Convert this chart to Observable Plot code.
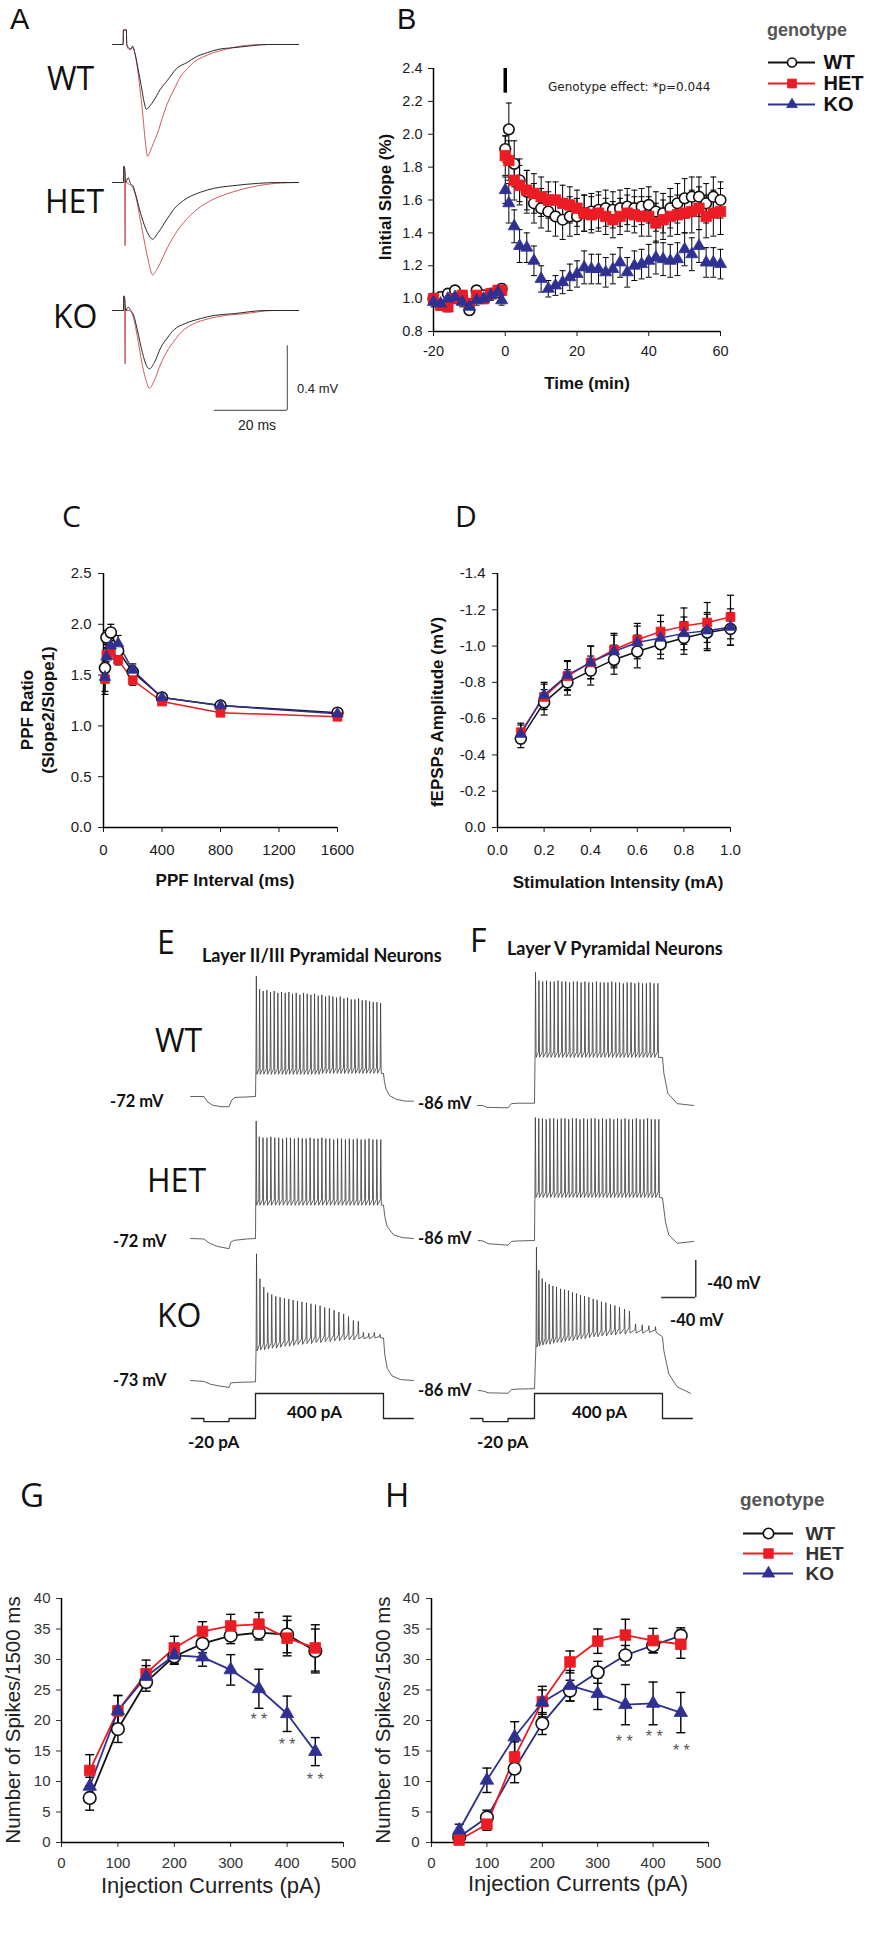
<!DOCTYPE html>
<html><head><meta charset="utf-8">
<script src="https://cdn.jsdelivr.net/npm/d3@7"></script>
<script src="https://cdn.jsdelivr.net/npm/@observablehq/plot@0.6"></script>
<style>
html,body{margin:0;padding:0;background:#fff;}
#fig{position:relative;width:874px;height:1950px;overflow:hidden;background:#fff;}
</style></head><body><div id="fig"></div>
<script>
// ================= DATA =================
const genotypes = ["WT", "HET", "KO"];

// ---- Panel A: fEPSP traces [time ms, mV rel. baseline]; base = black, ltp = red
const fepspWTBase = [[0,0],[2.9,0],[3,0.09],[3.8,0.09],[3.9,0],[4.4,-0.02],[5,-0.03],[5.5,-0.01],[6.2,-0.06],[7,-0.15],[7.9,-0.26],[8.7,-0.36],[9.3,-0.40],[10.2,-0.38],[11.2,-0.35],[13,-0.28],[15.1,-0.22],[17.5,-0.15],[20.5,-0.11],[23,-0.075],[26,-0.05],[29,-0.03],[33,-0.02],[38,-0.008],[42.5,0],[51,0]];
const fepspWTLtp = [[0,0],[2.9,0],[3,0.09],[3.8,0.09],[3.9,0],[4.5,-0.03],[5.5,-0.02],[6.2,-0.06],[6.8,-0.14],[7.5,-0.27],[8.2,-0.41],[9.0,-0.60],[9.6,-0.69],[10.3,-0.66],[11.2,-0.61],[12.3,-0.55],[13.7,-0.45],[15.1,-0.36],[16.8,-0.28],[18.6,-0.20],[20.5,-0.15],[22.2,-0.11],[25,-0.075],[27.7,-0.05],[31,-0.03],[35,-0.01],[42,0],[51,0]];
const fepspHETBase = [[0,0],[3.0,0],[3.1,0.10],[3.4,0.08],[3.6,0],[4.3,0.03],[5,-0.01],[5.6,-0.02],[6.3,-0.07],[7.7,-0.19],[9.6,-0.31],[11,-0.35],[12.5,-0.31],[15.1,-0.22],[17,-0.16],[19.5,-0.11],[24.1,-0.06],[28,-0.035],[33,-0.02],[40,-0.005],[46,0],[51,0]];
const fepspHETLtp = [[0,0],[3.0,0],[3.1,0.10],[3.3,0.05],[3.45,-0.39],[3.6,0],[4.5,-0.01],[5.5,-0.03],[6.3,-0.08],[7.7,-0.24],[9.6,-0.46],[11,-0.57],[12.3,-0.53],[15.1,-0.40],[18,-0.29],[21,-0.21],[24.1,-0.15],[27.5,-0.105],[31.4,-0.07],[35,-0.045],[38.7,-0.025],[45,-0.005],[51,0]];
const fepspKOBase = [[0,0],[3.0,0],[3.1,0.09],[3.4,0.07],[3.6,0],[4.3,0.02],[5,0],[5.8,-0.03],[6.8,-0.12],[8.2,-0.26],[9.3,-0.34],[10.1,-0.36],[11.5,-0.32],[13.2,-0.23],[15,-0.17],[16.8,-0.12],[20,-0.08],[24.1,-0.05],[28,-0.03],[33,-0.02],[42,0],[51,0]];
const fepspKOLtp = [[0,0],[3.0,0],[3.1,0.09],[3.3,0.05],[3.45,-0.33],[3.6,0],[4.5,0],[5.8,-0.05],[6.8,-0.16],[8.2,-0.34],[9.3,-0.44],[10.1,-0.48],[11.5,-0.43],[13.2,-0.33],[15,-0.25],[16.8,-0.19],[19,-0.13],[21.5,-0.09],[26.5,-0.05],[31,-0.03],[36,-0.02],[44,0],[51,0]];
const scaleBarA = {t: [27.9, 47.9], v: [-0.617, -0.217]};   // 20 ms, 0.4 mV

// ---- Panel B: LTP time course
const ltpTime = [-20,-18,-16,-14,-12,-10,-8,-6,-4,-2,-1, 0,1,2.5,4,6,8,10,12,14,16,18,20,22,24,26,28,30,32,34,36,38,40,42,44,46,48,50,52,54,56,58,60];
const ltpWT = [1.00,1.01,1.03,1.05,1.01,0.93,1.05,1.02,1.03,1.04,1.06, 1.91,2.03,1.82,1.72,1.65,1.58,1.55,1.53,1.50,1.48,1.50,1.50,1.52,1.53,1.54,1.55,1.54,1.55,1.56,1.55,1.56,1.57,1.53,1.52,1.55,1.58,1.61,1.62,1.62,1.58,1.62,1.60];
const ltpWTerr = [0.03,0.03,0.03,0.03,0.03,0.03,0.03,0.03,0.03,0.03,0.03, 0.08,0.16,0.14,0.13,0.13,0.12,0.12,0.12,0.12,0.12,0.12,0.11,0.11,0.11,0.11,0.11,0.11,0.11,0.11,0.11,0.11,0.11,0.12,0.12,0.12,0.12,0.12,0.12,0.12,0.12,0.12,0.11];
const ltpHET = [1.00,0.96,0.95,1.00,1.02,0.97,1.02,1.00,1.03,1.05,1.05, 1.87,1.84,1.72,1.69,1.66,1.64,1.62,1.60,1.60,1.58,1.57,1.55,1.52,1.51,1.52,1.50,1.48,1.50,1.52,1.51,1.50,1.50,1.46,1.48,1.50,1.51,1.52,1.53,1.55,1.50,1.52,1.53];
const ltpHETerr = [0.03,0.03,0.03,0.03,0.03,0.03,0.03,0.03,0.03,0.03,0.03, 0.12,0.12,0.12,0.12,0.12,0.12,0.12,0.11,0.11,0.11,0.11,0.11,0.11,0.11,0.11,0.11,0.11,0.11,0.11,0.11,0.12,0.12,0.12,0.12,0.12,0.12,0.12,0.13,0.13,0.13,0.14,0.14];
const ltpKO = [0.98,0.97,1.00,1.01,0.98,0.95,0.99,1.00,1.02,1.04,0.99, 1.66,1.58,1.44,1.32,1.31,1.23,1.12,1.06,1.08,1.10,1.13,1.15,1.19,1.18,1.18,1.16,1.18,1.22,1.16,1.20,1.21,1.23,1.25,1.24,1.23,1.24,1.30,1.27,1.32,1.22,1.22,1.21];
const ltpKOerr = [0.03,0.03,0.03,0.03,0.03,0.03,0.03,0.03,0.03,0.03,0.03, 0.08,0.12,0.10,0.10,0.09,0.09,0.08,0.05,0.06,0.07,0.08,0.08,0.10,0.09,0.09,0.09,0.09,0.09,0.09,0.09,0.09,0.10,0.10,0.10,0.10,0.10,0.10,0.10,0.10,0.09,0.09,0.09];
const tetanusTime = [0];
const tetanusRange = [2.25, 2.40];
const ltpTicksX = [-20, 0, 20, 40, 60];
const ltpTicksY = [0.8, 1.0, 1.2, 1.4, 1.6, 1.8, 2.0, 2.2, 2.4];
const ltpNote = "Genotype effect: *p=0.044";

// ---- Panel C: paired-pulse facilitation
const ppfInterval = [10, 20, 50, 100, 200, 400, 800, 1600];
const ppfWT = [1.57, 1.87, 1.92, 1.74, 1.53, 1.28, 1.20, 1.13];
const ppfWTerr = [0.06, 0.07, 0.08, 0.07, 0.06, 0.03, 0.03, 0.02];
const ppfHET = [1.46, 1.70, 1.72, 1.65, 1.45, 1.24, 1.13, 1.09];
const ppfHETerr = [0.12, 0.07, 0.06, 0.05, 0.05, 0.03, 0.02, 0.02];
const ppfKO = [1.48, 1.68, 1.79, 1.81, 1.55, 1.28, 1.20, 1.12];
const ppfKOerr = [0.17, 0.08, 0.07, 0.08, 0.06, 0.03, 0.02, 0.02];
const ppfTicksX = [0, 400, 800, 1200, 1600];
const ppfTicksY = [0, 0.5, 1.0, 1.5, 2.0, 2.5];

// ---- Panel D: input-output
const stimIntensity = [0.1, 0.2, 0.3, 0.4, 0.5, 0.6, 0.7, 0.8, 0.9, 1.0];
const ioWT = [-0.49, -0.69, -0.80, -0.865, -0.925, -0.97, -1.01, -1.045, -1.075, -1.095];
const ioWTerr = [0.05, 0.07, 0.07, 0.08, 0.08, 0.09, 0.08, 0.09, 0.10, 0.09];
const ioHET = [-0.525, -0.72, -0.835, -0.91, -0.98, -1.035, -1.08, -1.11, -1.13, -1.16];
const ioHETerr = [0.05, 0.07, 0.08, 0.09, 0.09, 0.09, 0.09, 0.10, 0.11, 0.12];
const ioKO = [-0.515, -0.73, -0.84, -0.91, -0.97, -1.02, -1.045, -1.07, -1.085, -1.105];
const ioKOerr = [0.05, 0.07, 0.08, 0.09, 0.09, 0.09, 0.09, 0.09, 0.10, 0.10];
const ioTicksX = [0, 0.2, 0.4, 0.6, 0.8, 1.0];
const ioTicksY = [0, -0.2, -0.4, -0.6, -0.8, -1.0, -1.2, -1.4];

// ---- Panels E/F: current-clamp traces. pre/post: [ms, mV]; spikes: [ms, peak mV, trough mV]
const eWTPre = [[-760,-72],[-605,-72],[-560,-78],[-500,-81.5],[-400,-83],[-310,-83],[-280,-76],[-240,-73],[-100,-72.5],[0,-72]];
const eWTSpikes = [[10,58,-48],[48,44,-48],[90,42,-48],[133,43,-48],[176,41,-48],[219,42,-48],[262,40,-48],[305,41,-48],[348,40,-48],[391,41,-48],[434,39,-48],[477,40,-48],[520,38,-48],[563,40,-48],[606,39,-48],[649,38,-48],[692,39,-48],[735,37,-48],[778,38,-47],[821,36,-47],[864,37,-47],[907,36,-47],[950,35,-47],[993,36,-47],[1036,34,-47],[1079,35,-47],[1122,33,-47],[1165,33,-47],[1208,34,-47],[1251,32,-47],[1294,32,-47],[1337,31,-47],[1380,30,-47],[1423,30,-47],[1466,29,-47]];
const eWTPost = [[1500,-47],[1510,-55],[1530,-64],[1570,-71],[1650,-75],[1750,-77],[1852,-77]];
const eHETPre = [[-760,-72],[-605,-72.5],[-540,-77],[-450,-80.5],[-310,-83],[-290,-76],[-250,-74],[-100,-72.5],[0,-72]];
const eHETSpikes = [[8,55,-36],[44,38,-36],[88,37,-36],[134,37,-36],[180,38,-36],[226,37,-36],[272,37,-36],[318,36,-36],[364,37,-36],[410,37,-36],[456,36,-36],[502,37,-36],[548,36,-36],[594,36,-36],[640,37,-36],[686,36,-36],[732,36,-36],[778,37,-36],[824,36,-36],[870,36,-36],[916,35,-36],[962,36,-36],[1008,36,-36],[1054,35,-36],[1100,36,-36],[1146,35,-36],[1192,36,-36],[1238,35,-36],[1284,35,-36],[1330,36,-36],[1376,35,-36],[1422,35,-36],[1468,35,-36]];
const eHETPost = [[1500,-36],[1515,-48],[1543,-59],[1617,-68],[1720,-71],[1852,-72]];
const eKOPre = [[-760,-73],[-605,-74],[-530,-77],[-420,-79],[-310,-80.5],[-290,-75.5],[-200,-75],[0,-74.5]];
const eKOSpikes = [[12,64,-41],[52,37,-40],[97,28,-40],[143,22,-39],[190,20,-38],[238,18,-38],[288,17,-37],[339,16,-36],[390,15,-36],[441,14,-35],[492,13,-34],[544,12,-34],[597,11,-33],[650,10,-33],[703,9,-32],[757,8,-32],[811,6,-31],[866,5,-31],[921,3,-30],[977,1,-30],[1033,-1,-29],[1090,-4,-29],[1147,-8,-29],[1205,-9,-28],[1265,-21,-28],[1328,-22,-28],[1393,-21,-27],[1458,-23,-27]];
const eKOPost = [[1500,-27],[1515,-45],[1545,-60],[1600,-68],[1700,-72],[1852,-73]];
const fWTPre = [[-668,-86],[-605,-86],[-560,-88],[-310,-88.5],[-270,-84],[-200,-83.5],[0,-83.5]];
const fWTSpikes = [[12,58,-34],[52,49,-34],[96,48,-34],[141,49,-34],[186,48,-34],[231,48,-34],[276,49,-34],[321,48,-34],[366,48,-34],[411,47,-34],[456,48,-34],[501,48,-34],[546,47,-34],[591,48,-34],[636,47,-34],[681,47,-34],[726,48,-34],[771,47,-34],[816,47,-34],[861,47,-34],[906,48,-34],[951,47,-34],[996,47,-34],[1041,46,-34],[1086,47,-34],[1131,47,-34],[1176,46,-34],[1221,47,-34],[1266,46,-34],[1311,46,-34],[1356,47,-34],[1401,46,-34],[1446,46,-34]];
const fWTPost = [[1500,-34],[1516,-51],[1563,-73],[1672,-84],[1867,-86]];
const fHETPre = [[-660,-86],[-605,-86.5],[-540,-89.5],[-310,-91],[-270,-87],[-200,-86.5],[0,-86]];
const fHETSpikes = [[10,47,-39.5],[50,46,-39.5],[93,46,-39.5],[137,45,-39.5],[181,46,-39.5],[225,46,-39.5],[269,45,-39.5],[313,46,-39.5],[357,46,-39.5],[401,45,-39.5],[445,46,-39.5],[489,46,-39.5],[533,45,-39.5],[577,46,-39.5],[621,45,-39.5],[665,46,-39.5],[709,46,-39.5],[753,45,-39.5],[797,46,-39.5],[841,45,-39.5],[885,46,-39.5],[929,45,-39.5],[973,46,-39.5],[1017,45,-39.5],[1061,46,-39.5],[1105,45,-39.5],[1149,45,-39.5],[1193,46,-39.5],[1237,45,-39.5],[1281,45,-39.5],[1325,46,-39.5],[1369,45,-39.5],[1413,45,-39.5],[1457,45,-39.5]];
const fHETPost = [[1500,-40],[1535,-66],[1574,-80],[1672,-89],[1867,-87]];
const fKOPre = [[-660,-86],[-605,-86.5],[-540,-88.5],[-310,-89],[-270,-85],[-200,-84.5],[0,-84]];
const fKOSpikes = [[23,69,-39],[51,44,-38],[90,35,-37],[129,31,-36],[172,29,-36],[215,27,-35],[258,26,-34],[305,24,-34],[352,23,-33],[398,22,-32],[445,20,-32],[492,19,-31],[539,17,-30],[586,16,-30],[637,15,-29],[688,13,-28],[734,12,-28],[785,10,-27],[836,9,-27],[891,7,-26],[942,6,-26],[996,4,-25],[1055,2,-25],[1113,0,-24],[1184,-14,-24],[1262,-15,-24],[1340,-16,-23],[1418,-17,-23]];
const fKOPost = [[1500,-28],[1516,-43],[1574,-68],[1672,-82],[1828,-89]];
const scaleBarF = {t: [1490, 1890], v: [14.5, 54.5]};   // 400 ms, 40 mV
// command current protocol [ms, pA]
const cmdTime = [-750, -605, -605, -310, -310, 0, 0, 1500, 1500, 1850];
const cmdCurrent = [0, 0, -20, -20, 0, 0, 400, 400, 0, 0];

// ---- Panels G/H: spikes per 1500 ms vs injected current
const injCurrent = [50, 100, 150, 200, 250, 300, 350, 400, 450];
const gWT = [7.3, 18.6, 26.3, 30.5, 32.6, 33.9, 34.4, 34.1, 31.4];
const gWTerr = [2.0, 2.2, 1.5, 1.3, 1.5, 1.3, 1.2, 3.0, 3.6];
const gHET = [11.8, 21.6, 27.7, 31.9, 34.6, 35.5, 35.8, 33.5, 31.9];
const gHETerr = [2.6, 2.5, 2.2, 1.9, 1.6, 1.9, 1.9, 2.9, 3.8];
const gKO = [9.2, 21.6, 27.2, 30.7, 30.4, 28.3, 25.2, 21.1, 14.9];
const gKOerr = [1.5, 2.5, 1.8, 1.3, 1.5, 2.5, 3.2, 2.9, 2.3];
const gSigX = [350, 400, 450];
const gSigY = [20.8, 16.7, 11.0];
const hWT = [0.9, 4.1, 12.1, 19.5, 24.9, 27.9, 30.7, 32.3, 33.9];
const hWTerr = [0.6, 1.2, 2.3, 1.8, 1.7, 1.8, 1.6, 1.2, 1.3];
const hHET = [0.4, 3.0, 14.0, 23.1, 29.6, 33.0, 34.0, 33.1, 32.5];
const hHETerr = [0.5, 1.0, 2.5, 2.5, 1.8, 2.0, 2.6, 2.0, 2.3];
const hKO = [2.0, 10.2, 17.3, 23.0, 25.7, 24.4, 22.6, 22.8, 21.3];
const hKOerr = [1.0, 2.0, 2.5, 2.0, 2.5, 2.6, 3.3, 3.5, 3.3];
const hSigX = [348, 402, 451];
const hSigY = [17.2, 17.9, 15.7];
const spikeTicksX = [0, 100, 200, 300, 400, 500];
const spikeTicksY = [0, 5, 10, 15, 20, 25, 30, 35, 40];
const sigLabel = "* *";

// ================= RENDERING =================
const fig = document.getElementById("fig");
const AX = "'Liberation Sans', Arial, Helvetica, sans-serif";
const CAL = "Lato, 'Open Sans', sans-serif";
const LET = "'Open Sans', Lato, sans-serif";
const RED = "#ec1c24", BLUE = "#2e3192", INK = "#111";
const sty = {
  WT: {line: INK, symbol: "circle", fill: "#fff", stroke: INK},
  HET: {line: RED, symbol: "square", fill: RED, stroke: RED},
  KO: {line: BLUE, symbol: "triangle", fill: BLUE, stroke: BLUE}
};

function place(node, left, top, w, h) {
  const d = document.createElement("div");
  Object.assign(d.style, {position: "absolute", left: left + "px", top: top + "px", width: w + "px", height: h + "px"});
  d.appendChild(node);
  fig.appendChild(d);
}
const baseStyle = (size, color = "#1a1a1a") => ({fontFamily: AX, fontSize: size + "px", color, background: "transparent", overflow: "visible", maxWidth: "none"});
const capSymbol = (w) => ({draw(ctx) { ctx.moveTo(-w, 0); ctx.lineTo(w, 0); }});

function rows(xs, ys, es) { return xs.map((x, i) => ({x, y: ys[i], e: es[i]})); }

function seriesLayers(series, {lines = true, lw = 1.5, cap = 3, rs, ew = 1, lineColor = {}}) {
  const bars = [], lns = [], dots = [];
  for (const [g, data] of series) {
    const s = sty[g];
    bars.push(Plot.ruleX(data, {x: "x", y1: d => d.y - d.e, y2: d => d.y + d.e, stroke: "#000", strokeWidth: ew}));
    bars.push(Plot.dot(data, {x: "x", y: d => d.y + d.e, symbol: capSymbol(cap), r: 2, stroke: "#000", fill: "none", strokeWidth: ew}));
    bars.push(Plot.dot(data, {x: "x", y: d => d.y - d.e, symbol: capSymbol(cap), r: 2, stroke: "#000", fill: "none", strokeWidth: ew}));
    if (lines) lns.push(Plot.line(data, {x: "x", y: "y", stroke: lineColor[g] || s.line, strokeWidth: lw}));
    dots.push(Plot.dot(data, {x: "x", y: "y", symbol: s.symbol, r: rs[g], fill: s.fill, stroke: s.stroke, strokeWidth: g === "WT" ? 1.6 : 0.8}));
  }
  return [...bars, ...lns, ...dots];
}

function xyChart(o) {
  const [x0, x1] = o.px, [y0, y1] = o.py;
  const width = x1 - x0 + o.ml + o.mr, height = y1 - y0 + o.mt + o.mb;
  const svg = Plot.plot({
    width, height, marginLeft: o.ml, marginRight: o.mr, marginTop: o.mt, marginBottom: o.mb,
    x: {domain: o.dx}, y: {domain: o.dy},
    style: baseStyle(o.font, o.color),
    marks: [
      Plot.axisX({ticks: o.tx, tickFormat: o.fx, tickSize: 5, tickPadding: o.padX, label: null, fontSize: o.font}),
      Plot.axisY({ticks: o.ty, tickFormat: o.fy, tickSize: 5, tickPadding: o.padY, label: null, fontSize: o.font}),
      Plot.ruleX([o.dx[0]], {y1: o.dy[0], y2: o.dy[1], stroke: "#000", strokeWidth: 1.5}),
      Plot.ruleY([o.dy[0]], {x1: o.dx[0], x2: o.dx[1], stroke: "#000", strokeWidth: 1.5}),
      ...o.marks
    ]
  });
  place(svg, x0 - o.ml, y0 - o.mt, width, height);
}

function traceChart(o) {
  const {left, top, width, height, x0px, upx, basePx, ppu, baseV = 0, pow} = o;
  const dx = [(left - x0px) * upx, (left + width - x0px) * upx];
  let y;
  if (pow) {
    const inv = T => Math.sign(T) * Math.pow(Math.abs(T), 1 / pow);
    y = {type: "pow", exponent: pow, domain: [inv((basePx - (top + height)) / ppu), inv((basePx - top) / ppu)], axis: null};
  } else {
    y = {type: "linear", domain: [baseV + (basePx - (top + height)) / ppu, baseV + (basePx - top) / ppu], axis: null};
  }
  const svg = Plot.plot({width, height, margin: 0, x: {domain: dx, axis: null}, y, style: baseStyle(12), marks: o.marks});
  place(svg, left, top, width, height);
}

function buildTrace(pre, spikes, post) {
  const pts = pre.map(([t, v]) => ({t, v}));
  for (const [t, p, tr] of spikes) {
    const rise = Math.min(6, (p - tr) * 0.4);
    pts.push({t: t - 5, v: tr + rise}, {t, v: p}, {t: t + 7, v: tr});
  }
  for (const [t, v] of post) pts.push({t, v});
  return pts;
}

function legendChart(o) {
  const {left, top, width, height, rowY, lineX, labelX, labelSize, labelColor, rs} = o;
  const svg = Plot.plot({
    width, height, margin: 0,
    x: {type: "linear", domain: [0, 1], range: [lineX[0] - left, lineX[1] - left], axis: null},
    y: {type: "point", domain: genotypes, range: [rowY[0] - top, rowY[1] - top], padding: 0, axis: null},
    style: baseStyle(labelSize, labelColor),
    marks: [
      ...genotypes.map(g => Plot.ruleY([g], {x1: 0, x2: 1, stroke: sty[g].line, strokeWidth: 1.8})),
      ...genotypes.map(g => Plot.dot([g], {x: 0.5, y: d => d, symbol: sty[g].symbol, r: rs[g], fill: sty[g].fill, stroke: sty[g].stroke, strokeWidth: g === "WT" ? 1.6 : 0.8})),
      Plot.text(genotypes, {x: 1, y: d => d, text: d => d, dx: labelX - lineX[1], textAnchor: "start", fontWeight: "bold", fontSize: labelSize, fill: labelColor})
    ]
  });
  place(svg, left, top, width, height);
}

// ---------- Panel A ----------
const aCommon = {left: 104, width: 200, x0px: 112, upx: 1 / 3.65, ppu: 162};
traceChart({...aCommon, top: 18, height: 150, basePx: 44, marks: [
  Plot.line(fepspWTLtp, {x: d => d[0], y: d => d[1], stroke: "#c94a4c", strokeWidth: 0.9, curve: "monotone-x"}),
  Plot.line(fepspWTBase, {x: d => d[0], y: d => d[1], stroke: "#2a2a2a", strokeWidth: 1, curve: "monotone-x"})]});
traceChart({...aCommon, top: 155, height: 135, basePx: 182, marks: [
  Plot.line(fepspHETLtp, {x: d => d[0], y: d => d[1], stroke: "#c94a4c", strokeWidth: 0.9, curve: "monotone-x"}),
  Plot.line(fepspHETBase, {x: d => d[0], y: d => d[1], stroke: "#2a2a2a", strokeWidth: 1, curve: "monotone-x"})]});
traceChart({...aCommon, top: 285, height: 135, basePx: 310, marks: [
  Plot.line(fepspKOLtp, {x: d => d[0], y: d => d[1], stroke: "#c94a4c", strokeWidth: 0.9, curve: "monotone-x"}),
  Plot.line(fepspKOBase, {x: d => d[0], y: d => d[1], stroke: "#2a2a2a", strokeWidth: 1, curve: "monotone-x"}),
  Plot.ruleY([scaleBarA.v[0]], {x1: scaleBarA.t[0], x2: scaleBarA.t[1], stroke: "#666", strokeWidth: 1.2}),
  Plot.ruleX([scaleBarA.t[1]], {y1: scaleBarA.v[0], y2: scaleBarA.v[1], stroke: "#666", strokeWidth: 1.2})]});

// ---------- Panel B ----------
xyChart({px: [433, 720], py: [68, 331], ml: 60, mr: 20, mt: 10, mb: 40, dx: [-20, 60], dy: [0.8, 2.4],
  tx: ltpTicksX, ty: ltpTicksY, fx: d => String(d), fy: d => d.toFixed(1), font: 14.5, padX: 9, padY: 6,
  marks: [
    Plot.ruleX(tetanusTime, {y1: tetanusRange[0], y2: tetanusRange[1], stroke: "#000", strokeWidth: 3.5}),
    ...seriesLayers([["WT", rows(ltpTime, ltpWT, ltpWTerr)], ["HET", rows(ltpTime, ltpHET, ltpHETerr)], ["KO", rows(ltpTime, ltpKO, ltpKOerr)]],
      {lines: false, cap: 3, rs: {WT: 5.3, HET: 5.9, KO: 4.5}, ew: 1})
  ]});
legendChart({left: 762, top: 50, width: 110, height: 70, rowY: [62, 104], lineX: [768, 815], labelX: 823, labelSize: 20, labelColor: "#111", rs: {WT: 4.5, HET: 5.0, KO: 4.0}});

// ---------- Panel C ----------
xyChart({px: [103, 337], py: [573, 827], ml: 45, mr: 20, mt: 10, mb: 40, dx: [0, 1600], dy: [0, 2.5],
  tx: ppfTicksX, ty: ppfTicksY, fx: d => String(d), fy: d => d.toFixed(1), font: 15, padX: 12, padY: 7,
  marks: seriesLayers([["WT", rows(ppfInterval, ppfWT, ppfWTerr)], ["HET", rows(ppfInterval, ppfHET, ppfHETerr)], ["KO", rows(ppfInterval, ppfKO, ppfKOerr)]],
      {lines: true, lw: 1.5, cap: 3.5, rs: {WT: 5.5, HET: 5.0, KO: 4.2}, ew: 1.2})});

// ---------- Panel D ----------
xyChart({px: [497, 730], py: [573, 827], ml: 45, mr: 20, mt: 10, mb: 40, dx: [0, 1.0], dy: [0, -1.4],
  tx: ioTicksX, ty: ioTicksY, fx: d => d.toFixed(1), fy: d => d.toFixed(1), font: 15, padX: 12, padY: 7,
  marks: seriesLayers([["WT", rows(stimIntensity, ioWT, ioWTerr)], ["HET", rows(stimIntensity, ioHET, ioHETerr)], ["KO", rows(stimIntensity, ioKO, ioKOerr)]],
      {lines: true, lw: 1.5, cap: 3.5, rs: {WT: 5.5, HET: 5.0, KO: 4.2}, ew: 1.2})});

// ---------- Panels E / F ----------
const trStroke = "#3a3a3a";
const eCommon = {left: 185, width: 235, x0px: 255, upx: 11.72, ppu: 0.925};
const fCommon = {left: 466, width: 240, x0px: 534, upx: 11.72, ppu: 0.925};
const trLine = (pts) => Plot.line(pts, {x: "t", y: "v", stroke: trStroke, strokeWidth: 0.8});
traceChart({...eCommon, top: 955, height: 160, basePx: 1096, baseV: -72, marks: [trLine(buildTrace(eWTPre, eWTSpikes, eWTPost))]});
traceChart({...eCommon, top: 1100, height: 155, basePx: 1238, baseV: -72, marks: [trLine(buildTrace(eHETPre, eHETSpikes, eHETPost))]});
traceChart({...eCommon, top: 1235, height: 160, basePx: 1380, baseV: -73, marks: [trLine(buildTrace(eKOPre, eKOSpikes, eKOPost))]});
traceChart({...fCommon, top: 955, height: 165, basePx: 1105, baseV: -86, marks: [trLine(buildTrace(fWTPre, fWTSpikes, fWTPost))]});
traceChart({...fCommon, top: 1100, height: 160, basePx: 1240, baseV: -86, marks: [trLine(buildTrace(fHETPre, fHETSpikes, fHETPost))]});
traceChart({...fCommon, top: 1235, height: 170, basePx: 1390, baseV: -86, marks: [
  trLine(buildTrace(fKOPre, fKOSpikes, fKOPost)),
  Plot.ruleY([scaleBarF.v[0]], {x1: scaleBarF.t[0], x2: scaleBarF.t[1], stroke: "#333", strokeWidth: 1.5}),
  Plot.ruleX([scaleBarF.t[1]], {y1: scaleBarF.v[0], y2: scaleBarF.v[1], stroke: "#333", strokeWidth: 1.5})]});
const cmdPts = cmdTime.map((t, i) => ({t, v: cmdCurrent[i]}));
const kPow = 25 / Math.pow(400, 0.7);
traceChart({...eCommon, top: 1385, height: 45, basePx: 1418, ppu: kPow, pow: 0.7, marks: [Plot.line(cmdPts, {x: "t", y: "v", stroke: "#222", strokeWidth: 1.3})]});
traceChart({...fCommon, top: 1385, height: 45, basePx: 1418, ppu: kPow, pow: 0.7, marks: [Plot.line(cmdPts, {x: "t", y: "v", stroke: "#222", strokeWidth: 1.3})]});

// ---------- Panels G / H ----------
const sigMarks = (xs, ys) => Plot.text(xs.map((x, i) => ({x, y: ys[i]})), {x: "x", y: "y", text: () => sigLabel, fontSize: 16, fill: "#555", dy: 4});
xyChart({px: [61, 343], py: [1598, 1842], ml: 50, mr: 25, mt: 10, mb: 40, dx: [0, 500], dy: [0, 40],
  tx: spikeTicksX, ty: spikeTicksY, fx: d => String(d), fy: d => String(d), font: 15, color: "#333", padX: 10, padY: 6,
  marks: [...seriesLayers([["WT", rows(injCurrent, gWT, gWTerr)], ["HET", rows(injCurrent, gHET, gHETerr)], ["KO", rows(injCurrent, gKO, gKOerr)]],
      {lines: true, lw: 1.8, cap: 4.5, rs: {WT: 6.3, HET: 6.0, KO: 5.0}, ew: 1.4}), sigMarks(gSigX, gSigY)]});
xyChart({px: [431, 708], py: [1598, 1842], ml: 50, mr: 25, mt: 10, mb: 40, dx: [0, 500], dy: [0, 40],
  tx: spikeTicksX, ty: spikeTicksY, fx: d => String(d), fy: d => String(d), font: 15, color: "#333", padX: 10, padY: 7,
  marks: [...seriesLayers([["WT", rows(injCurrent, hWT, hWTerr)], ["HET", rows(injCurrent, hHET, hHETerr)], ["KO", rows(injCurrent, hKO, hKOerr)]],
      {lines: true, lw: 1.8, cap: 4.5, rs: {WT: 6.3, HET: 6.0, KO: 5.0}, ew: 1.4, lineColor: {WT: "#262f80"}}), sigMarks(hSigX, hSigY)]});
legendChart({left: 738, top: 1520, width: 130, height: 70, rowY: [1533, 1573], lineX: [743, 793], labelX: 805, labelSize: 19, labelColor: "#333", rs: {WT: 5.2, HET: 5.4, KO: 4.6}});

// ---------- Text overlay ----------
const textLayout = [
  {t: "A", x: 10, y: 29, s: 29, f: AX}, {t: "B", x: 397, y: 29, s: 29, f: AX},
  {t: "C", x: 62, y: 527, s: 30, f: LET}, {t: "D", x: 455, y: 527, s: 30, f: LET},
  {t: "E", x: 157, y: 954, s: 32, f: LET}, {t: "F", x: 470, y: 952, s: 32, f: LET},
  {t: "G", x: 20, y: 1507, s: 33, f: LET}, {t: "H", x: 385, y: 1507, s: 33, f: LET},
  {t: "WT", x: 47, y: 90, s: 32, f: LET}, {t: "HET", x: 45, y: 213, s: 32, f: LET}, {t: "KO", x: 53, y: 328, s: 32, f: LET},
  {t: "0.4 mV", x: 297, y: 393, s: 13, f: AX, c: "#222"}, {t: "20 ms", x: 257, y: 430, s: 14, f: AX, a: "middle", c: "#222"},
  {t: ltpNote, x: 548, y: 91, s: 12, f: "'DejaVu Sans', Verdana, sans-serif", c: "#222"},
  {t: "genotype", x: 767, y: 36, s: 18, f: AX, w: 700, c: "#555"},
  {t: "Time (min)", x: 587, y: 389, s: 17, f: AX, w: 700, a: "middle"},
  {t: "Initial Slope (%)", x: 385, y: 197, s: 17, f: AX, w: 700, a: "middle", r: -90},
  {t: "PPF Interval (ms)", x: 225, y: 886, s: 17, f: AX, w: 700, a: "middle"},
  {t: "PPF Ratio", x: 27, y: 710, s: 17, f: AX, w: 700, a: "middle", r: -90},
  {t: "(Slope2/Slope1)", x: 48, y: 710, s: 17, f: AX, w: 700, a: "middle", r: -90},
  {t: "Stimulation Intensity (mA)", x: 618, y: 888, s: 17, f: AX, w: 700, a: "middle"},
  {t: "fEPSPs Amplitude (mV)", x: 437, y: 712, s: 17, f: AX, w: 700, a: "middle", r: -90},
  {t: "Layer II/III Pyramidal Neurons", x: 202, y: 962, s: 18, f: CAL, w: 700},
  {t: "Layer V Pyramidal Neurons", x: 507, y: 955, s: 18, f: CAL, w: 700},
  {t: "WT", x: 155, y: 1052, s: 32, f: LET}, {t: "HET", x: 147, y: 1192, s: 32, f: LET}, {t: "KO", x: 157, y: 1327, s: 32, f: LET},
  {t: "-72 mV", x: 110, y: 1107, s: 16.5, f: CAL, w: 700}, {t: "-72 mV", x: 113, y: 1247, s: 16.5, f: CAL, w: 700},
  {t: "-73 mV", x: 113, y: 1386, s: 16.5, f: CAL, w: 700},
  {t: "-86 mV", x: 418, y: 1109, s: 16.5, f: CAL, w: 700}, {t: "-86 mV", x: 418, y: 1244, s: 16.5, f: CAL, w: 700},
  {t: "-86 mV", x: 418, y: 1396, s: 16.5, f: CAL, w: 700},
  {t: "-40 mV", x: 707, y: 1289, s: 16.5, f: CAL, w: 700}, {t: "-40 mV", x: 670, y: 1326, s: 16.5, f: CAL, w: 700},
  {t: "400 pA", x: 287, y: 1418, s: 17, f: CAL, w: 700}, {t: "400 pA", x: 572, y: 1418, s: 17, f: CAL, w: 700},
  {t: "-20 pA", x: 188, y: 1448, s: 17, f: CAL, w: 700}, {t: "-20 pA", x: 477, y: 1448, s: 17, f: CAL, w: 700},
  {t: "Injection Currents (pA)", x: 211, y: 1893, s: 22, f: AX, a: "middle", c: "#222"},
  {t: "Injection Currents (pA)", x: 578, y: 1891, s: 22, f: AX, a: "middle", c: "#222"},
  {t: "Number of Spikes/1500 ms", x: 12, y: 1720, s: 20.5, f: AX, a: "middle", r: -90, c: "#222"},
  {t: "Number of Spikes/1500 ms", x: 382, y: 1720, s: 20.5, f: AX, a: "middle", r: -90, c: "#222"},
  {t: "genotype", x: 740, y: 1506, s: 19, f: AX, w: 700, c: "#555"}
];
const overlay = d3.create("svg").attr("width", 874).attr("height", 1950)
  .style("position", "absolute").style("left", "0px").style("top", "0px").style("pointer-events", "none");
for (const L of textLayout) {
  const el = overlay.append("text").attr("x", L.x).attr("y", L.y).text(L.t)
    .attr("font-family", L.f).attr("font-size", L.s).attr("font-weight", L.w || 400)
    .attr("fill", L.c || "#111").attr("text-anchor", L.a || "start");
  if (L.r) el.attr("dominant-baseline", "central").attr("transform", `rotate(${L.r},${L.x},${L.y})`);
}
fig.appendChild(overlay.node());
</script></body></html>
